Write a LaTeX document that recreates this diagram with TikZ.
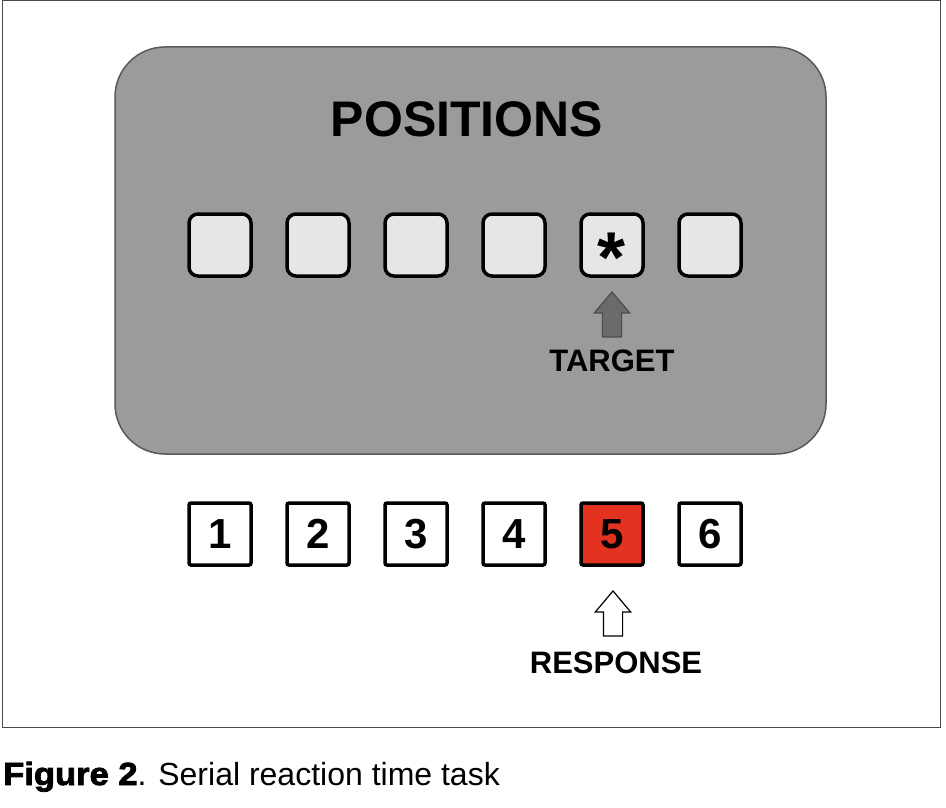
\documentclass[tikz,border=0pt]{standalone}
\usepackage{fontspec}
\setmainfont{Liberation Sans}
\newfontfamily\heavyfont[FakeBold=2.5, FakeStretch=1.08]{Liberation Sans Bold}
\usetikzlibrary{shapes.arrows}
\definecolor{panelgray}{HTML}{9B9B9B}
\definecolor{slotgray}{HTML}{E6E6E6}
\definecolor{targetgray}{HTML}{6B6B6B}
\definecolor{keyred}{HTML}{E3321F}
\tikzset{
	posbox/.style={draw=black, line width=3.5pt, rounded corners=9pt, fill=slotgray, minimum width=62pt, minimum height=62pt, inner sep=0pt},
	keybox/.style={draw=black, line width=3.5pt, rounded corners=2pt, fill=white, minimum width=62pt, minimum height=62pt, inner sep=0pt, font=\fontsize{42}{42}\selectfont\bfseries},
	uparrow/.style={single arrow, rotate=90, minimum height=45pt, single arrow head extend=8pt, single arrow tip angle=80, inner sep=0pt, line width=1.2pt},
	tag/.style={font=\fontsize{31}{31}\selectfont\bfseries, inner sep=0pt}
}
\begin{document}
\begin{tikzpicture}[x=1pt, y=-1pt]
	\useasboundingbox (0,0) rectangle (946,808);
	\draw[draw=black!70, line width=1pt] (2,1) rectangle (940,727);
	\draw[draw=black!65, fill=panelgray, line width=1.5pt, rounded corners=50pt] (115,47) rectangle (826,454);
	\node[font=\fontsize{50}{50}\selectfont\bfseries, inner sep=0pt] (title) at (467,119) {POSITIONS};
	\node[posbox] (pos1) at (220,245) {};
	\node[posbox] (pos2) at (318,245) {};
	\node[posbox] (pos3) at (416,245) {};
	\node[posbox] (pos4) at (514,245) {};
	\node[posbox] (pos5) at (612,245) {};
	\node[posbox] (pos6) at (710,245) {};
	\node[font=\fontsize{72}{72}\selectfont\bfseries, inner sep=0pt] (star) at (612,258) {*};
	\node[uparrow, draw=black!70, fill=targetgray, anchor=tip] (tgtarrow) at (612,291) {\rule{0pt}{18pt}};
	\node[tag, anchor=north] (target) at (612,350) {TARGET};
	\node[keybox] (key1) at (220,534) {1};
	\node[keybox] (key2) at (318,534) {2};
	\node[keybox] (key3) at (416,534) {3};
	\node[keybox] (key4) at (514,534) {4};
	\node[keybox, fill=keyred] (key5) at (612,534) {5};
	\node[keybox] (key6) at (710,534) {6};
	\node[uparrow, draw=black, fill=white, anchor=tip] (resparrow) at (613,590) {\rule{0pt}{18pt}};
	\node[tag, anchor=north] (response) at (616,652) {RESPONSE};
	\node[anchor=base west, inner sep=0pt, font=\fontsize{32}{32}\selectfont] (caption) at (3,785) {{\heavyfont Figure 2}. Serial reaction time task};
\end{tikzpicture}
\end{document}
